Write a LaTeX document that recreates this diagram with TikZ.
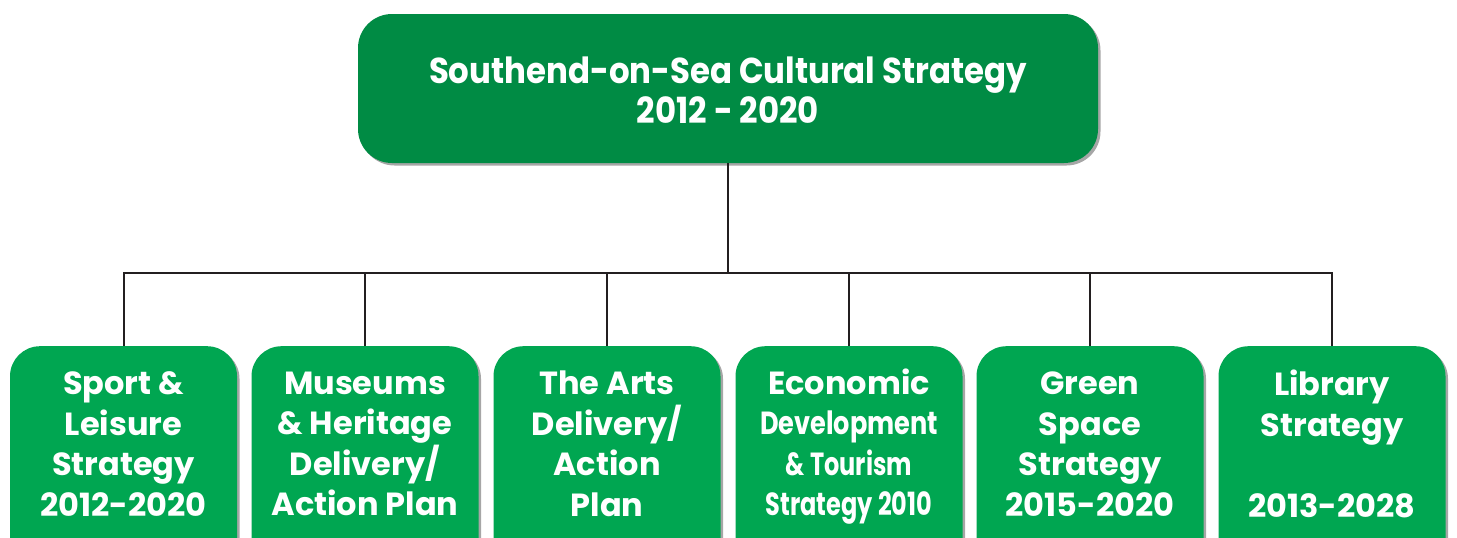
\documentclass[tikz,border=0pt]{standalone}
\usepackage{fontspec}
\setmainfont{Poppins}
\usetikzlibrary{shadows}
\definecolor{topgreen}{RGB}{0,139,68}
\definecolor{subgreen}{RGB}{0,166,81}
\definecolor{linegray}{RGB}{35,31,32}
\tikzset{
  topbox/.style={fill=topgreen, rounded corners=34pt, minimum width=740pt, minimum height=149pt,
    drop shadow={shadow xshift=2.5pt, shadow yshift=-2.5pt, fill=black, opacity=0.35}},
  subbox/.style={fill=subgreen, rounded corners=30pt, minimum width=227pt, minimum height=260pt,
    drop shadow={shadow xshift=2.5pt, shadow yshift=-2.5pt, fill=black, opacity=0.35}},
  toptext/.style={text=white, font=\fontsize{36}{40}\selectfont\bfseries, align=center},
  subtext/.style={text=white, font=\fontsize{32}{40.5}\selectfont\bfseries, align=center},
  conn/.style={draw=linegray, line width=2pt},
}
\begin{document}
\begin{tikzpicture}[x=1pt,y=-1pt]
\clip (0,0) rectangle (1457,538);
\fill[white] (0,0) rectangle (1457,538);
\node[topbox] (top) at (728,88.5) {};
\node[toptext] (toplabel) at (728,90) {\scalebox{0.9}[1]{Southend-on-Sea Cultural Strategy}\\\scalebox{0.9}[1]{2012 - 2020}};
\coordinate (bus) at (728,273);
\foreach \n/\x in {b1/123.5,b2/365,b3/607,b4/849,b5/1090,b6/1332}{
  \node[subbox, anchor=north] (\n) at (\x,346) {};
}
\node[subtext] (t1) at (b1.north |- 0,444) {Sport \&\\Leisure\\Strategy\\2012-2020};
\node[subtext] (t2) at (b2.north |- 0,444) {Museums\\\& Heritage\\Delivery/\\Action Plan};
\node[subtext] (t3) at (b3.north |- 0,444) {The Arts\\Delivery/\\Action\\Plan};
\node[subtext] (t4) at (b4.north |- 0,447) {\strut Economic\\\scalebox{0.8}[1]{\strut Development}\\\scalebox{0.75}[1]{\strut\& Tourism}\\\scalebox{0.75}[1]{\strut Strategy 2010}};
\node[subtext] (t5) at (b5.north |- 0,444) {Green\\Space\\Strategy\\2015-2020};
\node[subtext] (t6) at (b6.north |- 0,444) {Library\\Strategy\\\mbox{}\\2013-2028};
\draw[conn] (top.south) -- (bus);
\foreach \n in {b1,b2,b3,b4,b5,b6}{
  \draw[conn] (\n.north) |- (bus);
}
\end{tikzpicture}
\end{document}
